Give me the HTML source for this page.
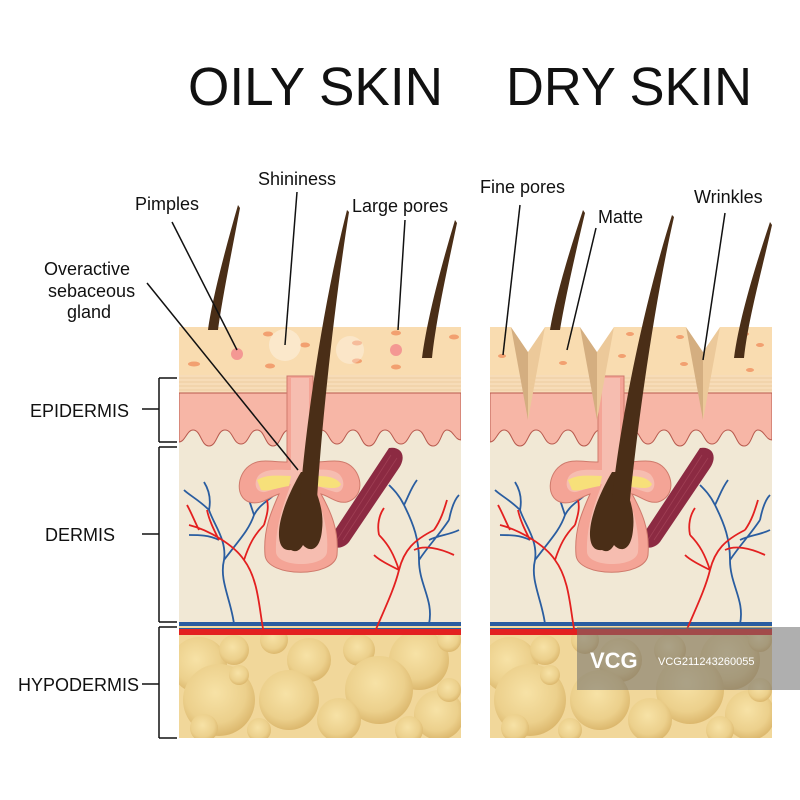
<!DOCTYPE html>
<html><head><meta charset="utf-8"><style>
html,body{margin:0;padding:0;background:#fff}
svg{display:block}
text{font-family:"Liberation Sans",sans-serif;fill:#111}
</style></head><body>
<svg width="800" height="800" viewBox="0 0 800 800" xmlns="http://www.w3.org/2000/svg">
<defs>
<radialGradient id="bub" cx="45%" cy="40%" r="60%">
<stop offset="0" stop-color="#f7e2a6"/><stop offset="0.7" stop-color="#ecd08c"/><stop offset="1" stop-color="#dcb86e"/>
</radialGradient>
<clipPath id="pc"><rect x="0" y="327" width="282" height="411"/></clipPath>
<symbol id="base" viewBox="0 0 282 800" width="282" height="800" overflow="visible">
<g clip-path="url(#pc)">
<rect x="0" y="327" width="282" height="411" fill="#f1e8d5"/>
<rect x="0" y="327" width="282" height="50" fill="#f9dcb0"/>
<rect x="0" y="375" width="282" height="20" fill="#f7dcb8"/>
<g stroke="#eecba0" stroke-width="1"><line x1="0" y1="378" x2="282" y2="378"/><line x1="0" y1="382" x2="282" y2="382"/><line x1="0" y1="386" x2="282" y2="386"/><line x1="0" y1="390" x2="282" y2="390"/></g>
<path d="M0 393 H282 V440 C276 440 274 430 268 430 C262 430 262 446 254 446 C246 446 246 430 238 430 C230 430 230 444 222 444 C214 444 214 430 206 430 C198 430 198 446 190 446 C182 446 182 430 174 430 C166 430 166 444 158 444 C150 444 150 430 142 430 C134 430 134 444 126 444 C118 444 118 430 110 430 C102 430 102 446 94 446 C86 446 86 430 78 430 C70 430 70 444 62 444 C54 444 54 430 46 430 C38 430 38 446 30 446 C22 446 22 430 14 430 C8 430 6 442 0 442 Z" fill="#f7b6a6" stroke="#b85a4e" stroke-width="1"/>
<rect x="0" y="628" width="282" height="110" fill="#f1d79a"/>
<g fill="url(#bub)">
<circle cx="20" cy="665" r="28"/><circle cx="55" cy="650" r="15"/><circle cx="95" cy="640" r="14"/><circle cx="130" cy="660" r="22"/><circle cx="180" cy="650" r="16"/><circle cx="240" cy="660" r="30"/><circle cx="270" cy="640" r="12"/>
<circle cx="40" cy="700" r="36"/><circle cx="110" cy="700" r="30"/><circle cx="200" cy="690" r="34"/><circle cx="160" cy="720" r="22"/><circle cx="260" cy="715" r="25"/>
<circle cx="25" cy="728" r="14"/><circle cx="80" cy="730" r="12"/><circle cx="230" cy="730" r="14"/><circle cx="270" cy="690" r="12"/><circle cx="60" cy="675" r="10"/>
</g>
<rect x="0" y="622" width="282" height="7" fill="#2a5da0"/>
<rect x="0" y="626" width="282" height="2" fill="#f3dca0"/>
<rect x="0" y="629" width="282" height="6" fill="#e32020"/>
<g fill="none" stroke="#2a5da0" stroke-width="1.8">
<path d="M55 624 C52 600 40 580 45 560 C48 540 35 525 30 510 M45 560 C60 540 70 530 75 515 M30 510 C20 500 10 495 5 490 M75 515 C80 505 90 500 95 495 M40 540 C30 535 20 535 10 535 M30 510 C32 500 30 490 25 482 M75 515 C70 500 68 492 62 485"/>
<path d="M250 624 C255 600 240 585 240 560 C240 540 235 525 225 505 M240 560 C250 545 260 535 270 520 M225 505 C220 495 215 490 210 485 M250 540 C260 535 270 535 280 530 M225 505 C230 495 232 488 238 480 M270 520 C272 510 275 500 280 495"/>
</g>
<g fill="none" stroke="#e32020" stroke-width="1.8">
<path d="M85 634 C80 610 80 580 65 560 C55 545 30 530 10 525 M65 560 C70 545 75 535 85 525 M40 540 C35 530 30 520 28 510 M20 530 C15 520 12 512 8 505 M85 525 C88 515 90 508 88 500"/>
<path d="M195 634 C205 610 215 590 220 570 C225 550 235 540 255 530 M220 570 C215 555 210 545 200 535 M235 550 C245 545 260 548 275 555 M220 570 C210 565 200 560 195 555 M255 530 C262 520 265 510 268 500 M200 535 C198 525 200 515 205 508"/>
</g>
<path d="M210 448 C222 446 228 456 220 468 L170 542 C162 552 146 548 152 536 Z" fill="#8c2a42"/>
<g stroke="#a8485c" stroke-width="0.8" opacity="0.7"><line x1="212" y1="455" x2="158" y2="540"/><line x1="218" y1="458" x2="164" y2="540"/></g>
<path d="M108 376 H134 V462 C150 462 162 458 172 466 C184 476 185 497 168 502 C158 504 150 496 142 494 C152 512 160 530 158 555 C155 578 88 578 86 555 C84 530 92 512 100 494 C92 496 82 506 70 502 C56 497 58 475 70 466 C80 458 92 462 108 462 Z" fill="#f4a496" stroke="#cf7a6c" stroke-width="1"/>
<path d="M112 378 H130 V470 C140 470 152 468 160 474 C168 482 164 494 156 492 C148 490 140 486 132 484 C142 505 150 528 148 552 C146 568 98 568 97 552 C96 528 104 505 112 484 C102 486 94 490 86 492 C76 493 74 482 80 475 C88 468 100 470 112 470 Z" fill="#f6bdb0"/>
<path d="M78 480 C88 474 100 476 112 476 L110 486 C98 488 88 492 82 490 Z M134 476 C146 476 156 476 162 484 C160 490 150 488 136 486 Z" fill="#f7e07a"/>
<path d="M112 550 C98 552 98 532 103 515 C107 500 116 482 122 472 L130 472 C134 487 146 505 143 530 C141 552 130 552 124 545 C120 552 116 552 112 550 Z" fill="#4a2e17"/>
</g>
</symbol>
</defs>

<text x="188" y="105" font-size="54" textLength="255" lengthAdjust="spacingAndGlyphs">OILY SKIN</text>
<text x="506" y="105" font-size="54" textLength="246" lengthAdjust="spacingAndGlyphs">DRY SKIN</text>

<use href="#base" x="179" y="0"/>
<use href="#base" x="490" y="0"/>

<!-- oily surface details -->
<g fill="#f2a070">
<ellipse cx="194" cy="364" rx="6" ry="2.5"/><ellipse cx="268" cy="334" rx="5" ry="2.5"/><ellipse cx="270" cy="366" rx="5" ry="2.5"/><ellipse cx="305" cy="345" rx="5" ry="2.5"/><ellipse cx="357" cy="343" rx="5" ry="2.5"/><ellipse cx="357" cy="361" rx="5" ry="2.5"/><ellipse cx="396" cy="333" rx="5" ry="2.5"/><ellipse cx="396" cy="367" rx="5" ry="2.5"/><ellipse cx="454" cy="337" rx="5" ry="2.5"/>
</g>
<circle cx="237" cy="354" r="6" fill="#f06a80" opacity="0.6"/>
<circle cx="396" cy="350" r="6" fill="#f06a80" opacity="0.6"/>
<circle cx="285" cy="345" r="16" fill="#fff" opacity="0.35"/>
<circle cx="350" cy="350" r="14" fill="#fff" opacity="0.3"/>

<!-- dry grooves -->
<g>
<path d="M511 327 L528 352 L528 420 Z" fill="#d4ae80"/>
<path d="M545 327 L528 352 L528 420 Z" fill="#ecc99a"/>
<path d="M580 327 L597 352 L597 420 Z" fill="#d4ae80"/>
<path d="M614 327 L597 352 L597 420 Z" fill="#ecc99a"/>
<path d="M686 327 L703 352 L703 420 Z" fill="#d4ae80"/>
<path d="M720 327 L703 352 L703 420 Z" fill="#ecc99a"/>
<g fill="#fff"><path d="M511 327 L528 352 L545 327 Z"/><path d="M580 327 L597 352 L614 327 Z"/><path d="M686 327 L703 352 L720 327 Z"/></g>
</g>
<g fill="#f2a070">
<ellipse cx="502" cy="356" rx="4" ry="2"/><ellipse cx="563" cy="363" rx="4" ry="2"/><ellipse cx="630" cy="334" rx="4" ry="2"/><ellipse cx="622" cy="356" rx="4" ry="2"/><ellipse cx="680" cy="337" rx="4" ry="2"/><ellipse cx="684" cy="364" rx="4" ry="2"/><ellipse cx="745" cy="334" rx="4" ry="2"/><ellipse cx="760" cy="345" rx="4" ry="2"/><ellipse cx="750" cy="370" rx="4" ry="2"/>
</g>

<!-- hairs -->
<g fill="#4a2e17">
<path d="M238 205 L240 208 C232 250 222 300 218 330 L208 330 C212 300 225 250 238 205 Z"/>
<path d="M455 220 L457 223 C447 270 436 320 432 358 L422 358 C427 320 440 270 455 220 Z"/>
<path d="M347 210 L349 212 C335 300 322 420 317 500 L300 500 C306 420 324 300 347 210 Z"/>
<path d="M583 210 L585 213 C575 255 565 300 560 330 L550 330 C555 300 568 255 583 210 Z"/>
<path d="M770 222 L772 225 C762 270 748 320 744 358 L734 358 C739 320 754 270 770 222 Z"/>
<path d="M672 215 L674 217 C655 300 638 420 630 500 L612 500 C620 420 645 300 672 215 Z"/>
</g>

<!-- leader lines -->
<g stroke="#111" stroke-width="1.5" fill="none">
<line x1="172" y1="222" x2="237" y2="350"/>
<line x1="297" y1="192" x2="285" y2="345"/>
<line x1="405" y1="220" x2="398" y2="330"/>
<line x1="147" y1="283" x2="298" y2="470"/>
<line x1="520" y1="205" x2="503" y2="355"/>
<line x1="596" y1="228" x2="567" y2="350"/>
<line x1="725" y1="213" x2="703" y2="360"/>
</g>

<g font-size="18">
<text x="135" y="210">Pimples</text>
<text x="258" y="185">Shininess</text>
<text x="352" y="212">Large pores</text>
<text x="44" y="275">Overactive</text>
<text x="48" y="297">sebaceous</text>
<text x="67" y="318">gland</text>
<text x="480" y="193">Fine pores</text>
<text x="598" y="223">Matte</text>
<text x="694" y="203">Wrinkles</text>
<text x="30" y="417">EPIDERMIS</text>
<text x="45" y="541">DERMIS</text>
<text x="18" y="691">HYPODERMIS</text>
</g>

<g stroke="#111" stroke-width="1.5" fill="none">
<path d="M159 378 H177 M159 378 V442 M159 442 H177 M142 409 H159"/>
<path d="M159 447 H177 M159 447 V622 M159 622 H177 M142 534 H159"/>
<path d="M159 627 H177 M159 627 V738 M159 738 H177 M142 684 H159"/>
</g>

<rect x="577" y="627" width="223" height="63" fill="#6e6e6e" opacity="0.55"/>
<text x="590" y="668" font-size="22" font-weight="bold" style="fill:#fff">VCG</text>
<text x="658" y="665" font-size="11" style="fill:#fff">VCG211243260055</text>
</svg>
</body></html>
